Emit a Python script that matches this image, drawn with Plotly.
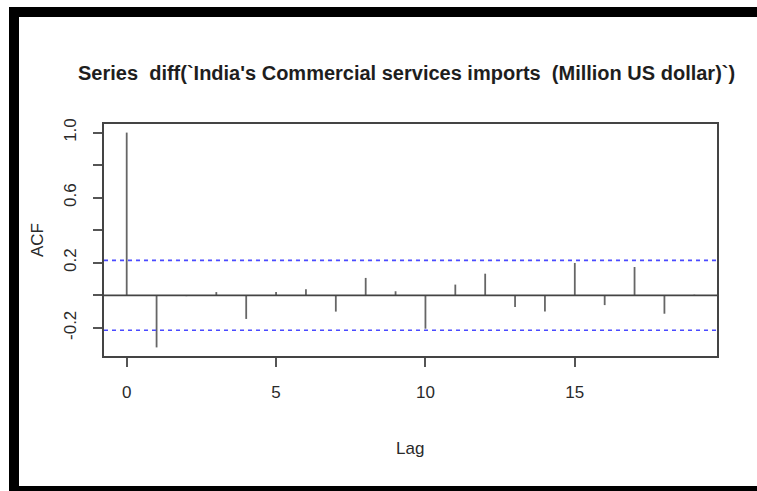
import plotly.graph_objects as go

# Autocorrelations of the differenced series, lags 0..19
lags = list(range(20))
acf_values = [1.0, -0.32, -0.005, 0.02, -0.145, 0.02, 0.037, -0.10, 0.107, 0.025,
              -0.205, 0.066, 0.133, -0.072, -0.10, 0.199, -0.06, 0.174, -0.113, 0.004]
conf_limit = 0.215

x_tick_vals = [0, 5, 10, 15]
y_tick_vals = [-0.2, 0.0, 0.2, 0.4, 0.6, 0.8, 1.0]
y_tick_text = ["-0.2", "", "0.2", "", "0.6", "", "1.0"]

title_text = "Series\u00a0\u00a0diff(`India's Commercial services imports\u00a0\u00a0(Million US dollar)`)"

W, H = 757, 491
L, R, T, B = 104, 40, 124, 135
PW, PH = W - L - R, H - T - B


def px_x(px):
    return (px - L) / PW


def px_y(py):
    return (H - B - py) / PH


# R-style axis limits: data range padded by 4%
lo = min(min(acf_values), -conf_limit)
hi = max(max(acf_values), conf_limit)
pad_y = 0.04 * (hi - lo)
pad_x = 0.04 * (lags[-1] - lags[0])

# vertical spikes from zero to each autocorrelation
spike_x, spike_y = [], []
for lag, v in zip(lags, acf_values):
    spike_x += [lag, lag, None]
    spike_y += [0, v, None]

fig = go.Figure()
fig.add_trace(go.Scatter(x=spike_x, y=spike_y, mode="lines",
                         line=dict(color="#666666", width=1.8),
                         hoverinfo="skip", showlegend=False))

xr = [lags[0] - pad_x, lags[-1] + pad_x]
fig.add_trace(go.Scatter(x=xr, y=[0, 0], mode="lines",
                         line=dict(color="#444444", width=1.6),
                         hoverinfo="skip", showlegend=False))
for c in (conf_limit, -conf_limit):
    fig.add_trace(go.Scatter(x=xr, y=[c, c], mode="lines",
                             line=dict(color="#4a4aff", width=1.6, dash="4px,4px"),
                             hoverinfo="skip", showlegend=False))

axis_font = dict(family="Liberation Sans, Arial, sans-serif", size=17, color="#2a2a2a")

fig.update_xaxes(range=xr, tickvals=x_tick_vals, ticks="outside", ticklen=9,
                 tickwidth=1.5, tickcolor="#555555", showline=True, mirror=True,
                 linecolor="#444444", linewidth=1.6, showgrid=False, zeroline=False,
                 tickfont=axis_font, ticklabelstandoff=11)
fig.update_yaxes(range=[lo - pad_y, hi + pad_y], tickvals=y_tick_vals, ticktext=y_tick_text,
                 ticks="outside", ticklen=9, tickwidth=1.5, tickcolor="#555555",
                 showline=True, mirror=True, linecolor="#444444", linewidth=1.6,
                 showgrid=False, zeroline=False, tickangle=-90,
                 tickfont=axis_font, ticklabelstandoff=10)

annotations = [
    dict(text="<b>" + title_text + "</b>", x=px_x(406), y=px_y(73),
         xref="paper", yref="paper", xanchor="center", yanchor="middle", showarrow=False,
         font=dict(family="Liberation Sans, Arial, sans-serif", size=20, color="#1e1e1e")),
    dict(text="Lag", x=px_x(410), y=px_y(448), xref="paper", yref="paper",
         xanchor="center", yanchor="middle", showarrow=False, font=axis_font),
    dict(text="ACF", x=px_x(37), y=px_y(240), xref="paper", yref="paper",
         xanchor="center", yanchor="middle", showarrow=False, textangle=-90, font=axis_font),
]

# black frame around the picture (left, top, bottom edges)
frame = [
    (9, 7, 19, H),
    (9, 7, W, 17),
    (9, 486, W, H),
]
shapes = [dict(type="rect", xref="paper", yref="paper",
               x0=px_x(a), x1=px_x(c), y0=px_y(d), y1=px_y(b),
               fillcolor="black", line=dict(width=0), layer="above")
          for a, b, c, d in frame]

fig.update_layout(width=W, height=H, margin=dict(l=L, r=R, t=T, b=B),
                  paper_bgcolor="white", plot_bgcolor="white",
                  annotations=annotations, shapes=shapes, showlegend=False)

fig.write_html("out.html")
